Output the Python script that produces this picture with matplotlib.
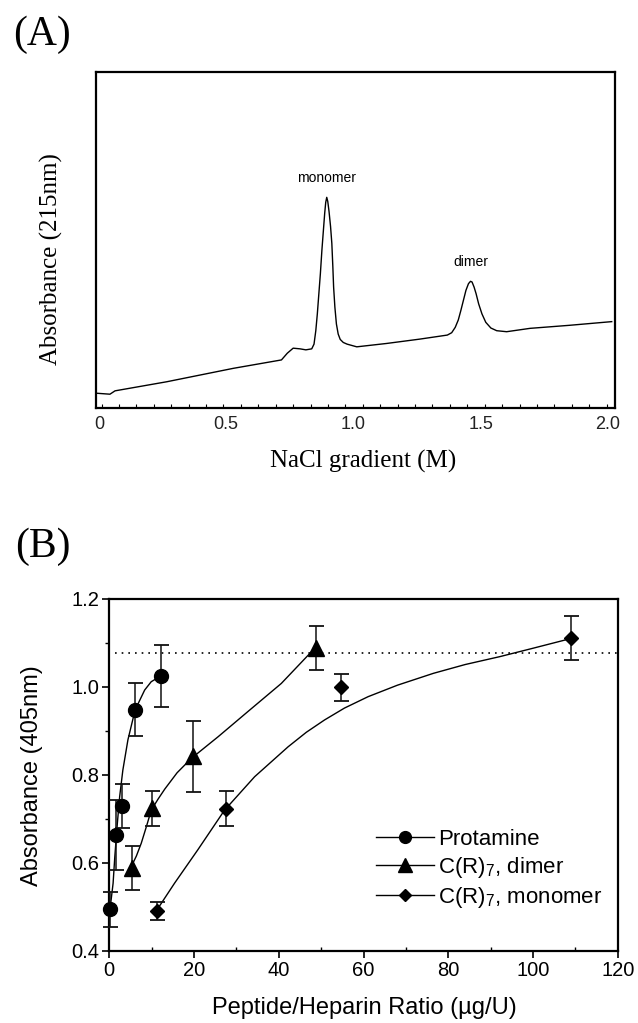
import numpy as np
import matplotlib.pyplot as plt
from matplotlib.lines import Line2D

plt.rcParams['font.family'] = ['Liberation Sans', 'DejaVu Sans']

# ---- (A) elution profile ----
nacl = [-0.012, 0.043, 0.063, 0.266, 0.528, 0.717, 0.740, 0.763, 0.790, 0.813,
        0.836, 0.845, 0.852, 0.858, 0.864, 0.870, 0.876, 0.882, 0.887, 0.891,
        0.895, 0.899, 0.904, 0.910, 0.915, 0.919, 0.922, 0.927, 0.933, 0.940,
        0.948, 0.960, 0.975, 1.013, 1.130, 1.261, 1.369, 1.386, 1.400, 1.412,
        1.422, 1.432, 1.442, 1.452, 1.460, 1.466, 1.474, 1.482, 1.492, 1.505,
        1.520, 1.540, 1.563, 1.602, 1.694, 1.848, 2.015]
abs215 = [0.044, 0.041, 0.051, 0.078, 0.118, 0.143, 0.163, 0.178, 0.176, 0.173,
          0.176, 0.190, 0.230, 0.280, 0.340, 0.400, 0.470, 0.530, 0.580, 0.612,
          0.627, 0.615, 0.585, 0.540, 0.490, 0.420, 0.360, 0.300, 0.250, 0.220,
          0.204, 0.195, 0.190, 0.182, 0.192, 0.205, 0.217, 0.224, 0.240, 0.262,
          0.290, 0.320, 0.350, 0.370, 0.377, 0.375, 0.360, 0.340, 0.310, 0.280,
          0.255, 0.238, 0.230, 0.227, 0.237, 0.246, 0.257]
peak_names = ['monomer', 'dimer']
peak_x = [0.895, 1.460]
peak_y = [0.684, 0.434]

# ---- (B) heparin neutralisation ----
prot_x = [0.17, 1.5, 2.9, 6.1, 12.2]
prot_y = [0.495, 0.664, 0.730, 0.948, 1.025]
prot_err = [0.04, 0.08, 0.05, 0.06, 0.07]

dim_x = [5.3, 10.0, 19.8, 48.8]
dim_y = [0.588, 0.724, 0.842, 1.088]
dim_err = [0.05, 0.04, 0.08, 0.05]

mon_x = [11.2, 27.5, 54.6, 108.9]
mon_y = [0.491, 0.723, 0.999, 1.112]
mon_err = [0.02, 0.04, 0.03, 0.05]

# curves as drawn in the figure
prot_fit_x = [0.17, 0.9, 1.3, 1.9, 2.45, 3.2, 4.4, 6.1, 8.35, 9.9, 12.2]
prot_fit_y = [0.495, 0.554, 0.614, 0.690, 0.751, 0.811, 0.880, 0.948, 0.993, 1.012, 1.025]
dim_fit_x = [5.2, 6.4, 7.55, 8.8, 9.9, 11.5, 13.1, 16.0, 19.4, 25.7, 32.7, 40.6, 48.5]
dim_fit_y = [0.592, 0.616, 0.645, 0.684, 0.720, 0.745, 0.768, 0.805, 0.838, 0.887, 0.944, 1.008, 1.088]
mon_fit_x = [11.5, 15.4, 20.9, 27.2, 34.3, 42.2, 46.5, 50.8, 55.5, 61.1, 68, 76.5, 84, 92.2, 100, 108.9]
mon_fit_y = [0.497, 0.554, 0.630, 0.720, 0.796, 0.864, 0.897, 0.925, 0.952, 0.978, 1.004,
             1.031, 1.051, 1.069, 1.088, 1.11]

plateau = 1.077

fig = plt.figure(figsize=(6.38, 10.23), dpi=100)

# ---------------- panel A ----------------
axA = fig.add_axes([0.150, 0.6012, 0.814, 0.3284])
axA.plot(nacl, abs215, color='k', lw=1.0)
for name, px, py in zip(peak_names, peak_x, peak_y):
    axA.text(px, py, name, ha='center', va='center', fontsize=10)
axA.set_xlim(-0.013, 2.028)
axA.set_ylim(0, 1)
axA.set_yticks([])
axA.set_xticks([0, 0.5, 1.0, 1.5, 2.0])
axA.set_xticklabels(['0', '0.5', '1.0', '1.5', '2.0'],
                    family=['Liberation Sans Narrow', 'Liberation Sans'], color='#222222')
axA.set_xticks(np.linspace(0.01, 1.995, 30), minor=True)
axA.tick_params(axis='x', which='major', length=0, labelsize=13, pad=6)
axA.tick_params(axis='x', which='minor', direction='in', length=3, width=0.8)
for sp in axA.spines.values():
    sp.set_linewidth(1.6)
axA.set_xlabel('NaCl gradient (M)', family='Liberation Serif', fontsize=18)
axA.xaxis.set_label_coords(0.515, -0.16)
axA.xaxis.label.set_va('center')
fig.text(0.080, 0.747, 'Absorbance (215nm)', rotation=90, ha='center', va='center',
         family='Liberation Serif', fontsize=18)
fig.text(0.0666, 1 - 35 / 1023, '(A)', ha='center', va='center',
         family='Liberation Serif', fontsize=30)

# ---------------- panel B ----------------
axB = fig.add_axes([0.1713, 0.0704, 0.7969, 0.3441])
axB.hlines(plateau, 1.3, 120, colors='k', linestyles=(0, (1, 3)), lw=1.2)
axB.plot(prot_fit_x, prot_fit_y, 'k-', lw=1)
axB.plot(dim_fit_x, dim_fit_y, 'k-', lw=1)
axB.plot(mon_fit_x, mon_fit_y, 'k-', lw=1)
ebkw = dict(color='k', ecolor='#111111', elinewidth=1.1, capsize=5.4, capthick=1.3,
            linestyle='none', clip_on=False, zorder=3)
axB.errorbar(prot_x, prot_y, yerr=prot_err, marker='o', ms=10, **ebkw)
axB.errorbar(dim_x, dim_y, yerr=dim_err, marker='^', ms=11, **ebkw)
axB.errorbar(mon_x, mon_y, yerr=mon_err, marker='D', ms=7.2, **ebkw)

axB.set_xlim(0, 120)
axB.set_ylim(0.4, 1.2)
axB.set_xticks(np.arange(0, 121, 20))
axB.set_xticks(np.arange(10, 120, 20), minor=True)
axB.set_yticks([0.4, 0.6, 0.8, 1.0, 1.2])
axB.set_yticks(np.arange(0.5, 1.2, 0.2), minor=True)
axB.set_yticklabels(['0.4', '0.6', '0.8', '1.0', '1.2'])
axB.tick_params(axis='both', which='major', labelsize=14.5, length=5, width=1.2, direction='out', pad=2)
axB.tick_params(axis='x', which='minor', direction='in', length=3, width=1)
axB.tick_params(axis='y', which='minor', direction='out', length=3, width=1)
for sp in axB.spines.values():
    sp.set_linewidth(1.6)
axB.set_xlabel('Peptide/Heparin Ratio (\u00b5g/U)', fontsize=17)
axB.xaxis.set_label_coords(0.501, -0.162)
axB.xaxis.label.set_va('center')
axB.set_ylabel('Absorbance (405nm)', fontsize=17)
axB.yaxis.set_label_coords(-0.153, 0.498)
axB.yaxis.label.set_va('center')

handles = [Line2D([], [], color='k', lw=1, marker='o', ms=8.5),
           Line2D([], [], color='k', lw=1, marker='^', ms=9.5),
           Line2D([], [], color='k', lw=1, marker='D', ms=6.5)]
labels = ['Protamine', r'C(R)$_\mathregular{7}$, dimer', r'C(R)$_\mathregular{7}$, monomer']
axB.legend(handles, labels, loc='upper left', bbox_to_anchor=(0.525, 0.347),
           frameon=False, fontsize=16, handlelength=2.6, handletextpad=0.2,
           labelspacing=0.22, borderpad=0, borderaxespad=0)

fig.text(0.0666, 1 - 546.7 / 1023, '(B)', ha='center', va='center',
         family='Liberation Serif', fontsize=30)

fig.savefig('out.png', dpi=100)
